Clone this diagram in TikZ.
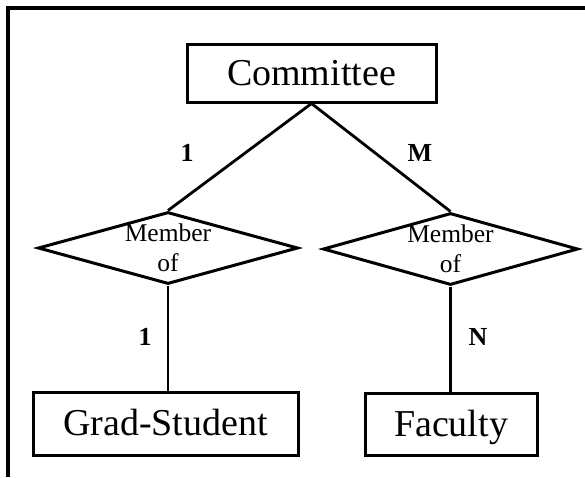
\documentclass[tikz,border=0pt]{standalone}
\usepackage{fontspec}
\setmainfont{Liberation Serif}
\usetikzlibrary{shapes.geometric}
\begin{document}
\begin{tikzpicture}[x=1pt,y=-1pt,
  entity/.style={draw,line width=3pt,rectangle,inner sep=0pt,
    text height=30pt,text depth=6pt,
    font=\fontsize{38}{44}\selectfont},
  relship/.style={draw,line width=3pt,diamond,inner sep=0pt},
  reltext/.style={align=center,inner sep=0pt,
    font=\fontsize{25.5}{30}\selectfont},
  card/.style={inner sep=0pt,font=\fontsize{26}{30}\selectfont\bfseries},
  link/.style={line width=2.8pt}]
  \useasboundingbox (0,0) rectangle (585,477);
  % frame along the top and left edges
  \coordinate (fl) at (8,477);
  \coordinate (fc) at (8,8);
  \coordinate (fr) at (585,8);
  \draw[line width=3.2pt] (fl) -- (fc) -- (fr);
  % entities
  \node[entity,minimum width=249pt,minimum height=58pt] (com) at (311.5,73) {Committee};
  \node[entity,minimum width=265pt,minimum height=63pt] (grad) at (165.5,423.5) {Grad-Student};
  \node[entity,minimum width=172pt,minimum height=62pt] (fac) at (451,424) {Faculty};
  % relationships
  \node[relship,minimum width=260pt,minimum height=72pt] (ld) at (168,248) {};
  \node[reltext] (ldt) at (168,248) {Member\\of};
  \node[relship,minimum width=255pt,minimum height=72pt] (rd) at (450.5,249) {};
  \node[reltext] (rdt) at (450.5,249) {Member\\of};
  % connectors
  \draw[link] (com.south) -- (ld.north);
  \draw[link] (com.south) -- (rd.north);
  \draw[link] (ld.south) -- (ld.south |- grad.north);
  \draw[link] (rd.south) -- (rd.south |- fac.north);
  % cardinalities
  \node[card] (c1) at (187,153) {1};
  \node[card] (c2) at (420,153) {M};
  \node[card] (c3) at (145,337) {1};
  \node[card] (c4) at (478,337) {N};
\end{tikzpicture}
\end{document}
